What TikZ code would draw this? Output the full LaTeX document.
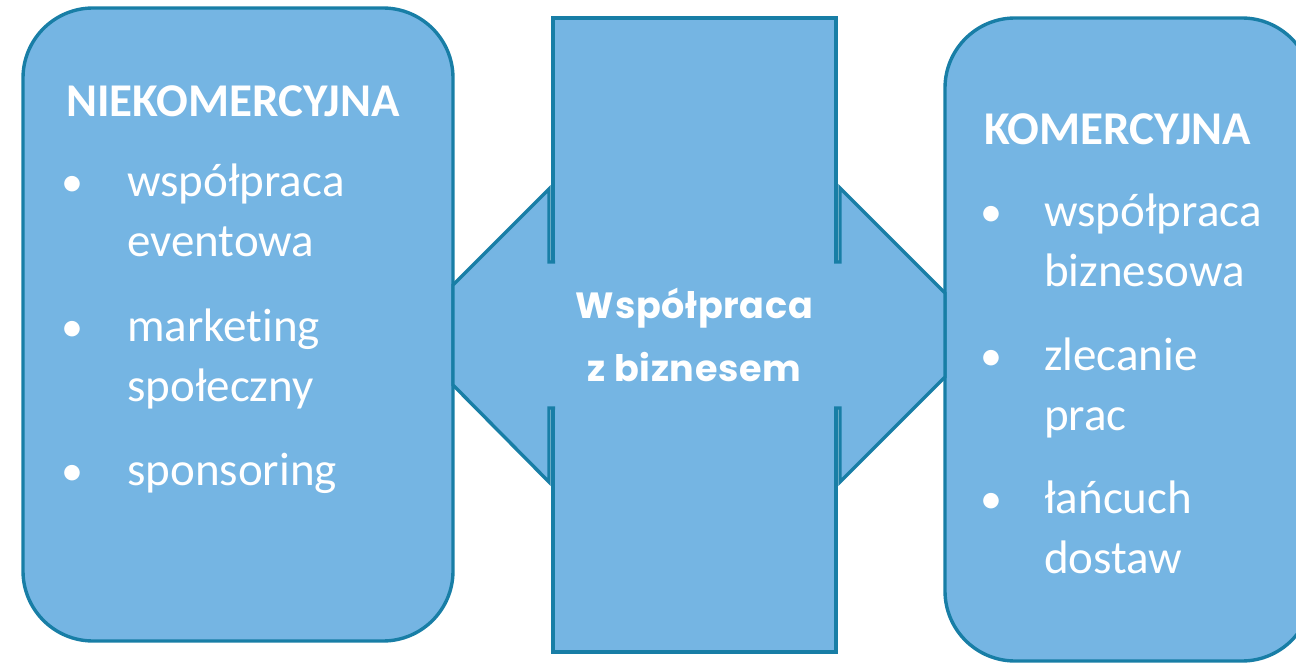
\documentclass[tikz,border=0pt]{standalone}
\usepackage{fontspec}
\setmainfont{Carlito}[Ligatures=NoCommon]
\newfontfamily\geofont{Poppins}[LetterSpace=2]
\usetikzlibrary{positioning,calc}
\definecolor{boxfill}{RGB}{117,181,227}
\definecolor{boxedge}{RGB}{24,126,166}

\begin{document}
\begin{tikzpicture}[
  x=1pt, y=-1pt,
  panel/.style={draw=boxedge, fill=boxfill, line width=3.4pt, inner sep=0pt},
  sidebox/.style={panel, rounded corners=70pt},
  outline/.style={draw=boxedge, line width=3.4pt},
  title/.style={text=white, font=\bfseries\fontsize{47}{60}\selectfont, inner sep=0pt, anchor=base west},
  item/.style={text=white, font=\fontsize{47}{60}\selectfont, align=left, inner sep=0pt, anchor=base west},
  dot/.style={text=white, font=\fontsize{44}{60}\selectfont, inner sep=0pt, anchor=base},
  middle/.style={text=white, font=\geofont\bfseries\fontsize{36.5}{63}\selectfont, align=center, inner sep=0pt}
]
\useasboundingbox (0,0) rectangle (1296,663);

% ----- Three panels
\node[sidebox, minimum width=430pt, minimum height=633pt] at (238,324.5) (niekom) {};
\node[sidebox, minimum width=367pt, minimum height=643pt] at (1128.5,339.5) (komer) {};
\node[panel, minimum width=283pt, minimum height=634pt] at (694.5,335) (wspol) {};

% ----- Fixed points of the two arrow heads
\coordinate (Lbarb1) at (549,189);
\coordinate (Ltip1)  at (453,285);
\coordinate (Ltip2)  at (453,385);
\coordinate (Lbarb2) at (549,482);
\coordinate (Rbarb1) at (840,188);
\coordinate (Rtip1)  at (945,293);
\coordinate (Rtip2)  at (945,377);
\coordinate (Rbarb2) at (840,482);

% Left head: fill over the panel border, then the outline
\fill[boxfill] (Lbarb1) -- (Ltip1) -- (Ltip2) -- (Lbarb2) -- (549,408) -- (560,408) -- (560,262) -- (549,262) -- cycle;
\draw[outline] (555,262) -- (549,262) -- (Lbarb1) -- (Ltip1) -- (Ltip2) -- (Lbarb2) -- (549,408) -- (555,408);

% Right head
\fill[boxfill] (Rbarb1) -- (Rtip1) -- (Rtip2) -- (Rbarb2) -- (840,408) -- (829,408) -- (829,262) -- (840,262) -- cycle;
\draw[outline] (834,262) -- (840,262) -- (Rbarb1) -- (Rtip1) -- (Rtip2) -- (Rbarb2) -- (840,408) -- (834,408);

% ----- Left panel text (items sit on the baseline of their last line)
\node[title] at (66,117) (nkTitle) {NIEKOMERCYJNA};
\node[dot] at (72,197) (nkDot1) {•};
\node[item] at (127,257) (nkItem1) {współpraca\\eventowa};
\node[dot] at (72,341) (nkDot2) {•};
\node[item] at (127,401) (nkItem2) {marketing\\społeczny};
\node[dot] at (72,485) (nkDot3) {•};
\node[item] at (127,485) (nkItem3) {sponsoring};

% ----- Middle text
\node[middle] at (694.5,335) (wsText) {Współpraca\\z biznesem};

% ----- Right panel text
\node[title] at (984,145) (kTitle) {KOMERCYJNA};
\node[dot] at (991,226) (kDot1) {•};
\node[item] at (1044,286) (kItem1) {współpraca\\biznesowa};
\node[dot] at (991,370) (kDot2) {•};
\node[item] at (1044,430) (kItem2) {zlecanie\\prac};
\node[dot] at (991,513) (kDot3) {•};
\node[item] at (1044,573) (kItem3) {łańcuch\\dostaw};

\end{tikzpicture}
\end{document}
